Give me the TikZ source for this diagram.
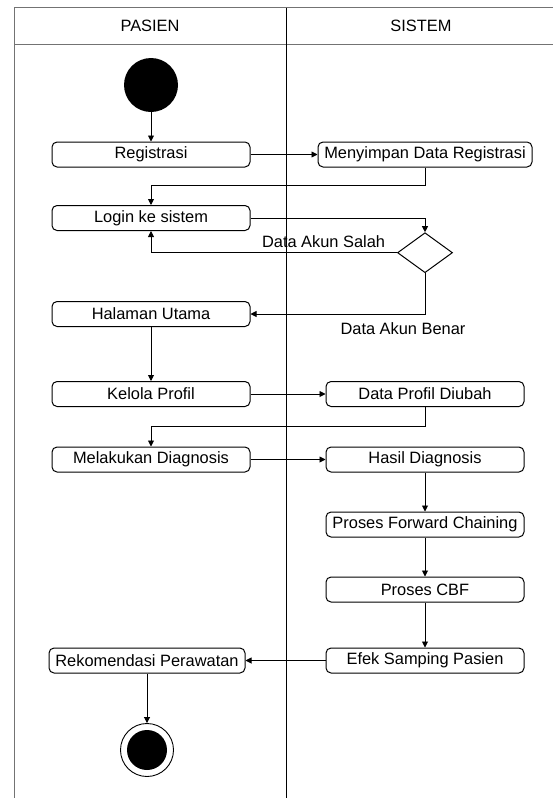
\documentclass[tikz,border=0pt]{standalone}
\usepackage{fontspec}
\setmainfont{Liberation Sans}
\usetikzlibrary{arrows.meta,shapes.geometric}
\begin{document}
\begin{tikzpicture}[x=1pt,y=-1pt,
  act/.style={draw,rounded corners=5pt,line width=1pt,minimum height=25pt,inner sep=0pt,font=\fontsize{16.4}{19}\selectfont},
  lbl/.style={inner sep=0pt,font=\fontsize{16.4}{19}\selectfont},
  flow/.style={draw,line width=0.9pt,-{Triangle[length=6pt,width=6pt]}},
  lanebox/.style={draw=black!55,line width=1.3pt},
  divider/.style={draw=black,line width=1pt},
  ]
\useasboundingbox (0,0) rectangle (553,798);
% swimlane frame
\coordinate (tl) at (14.7,7.5);
\coordinate (hl) at (14.7,44.5);
\coordinate (bl) at (14.7,798);
\coordinate (tr) at (553,7.5);
\coordinate (hr) at (553,44.5);
\coordinate (dt) at (286,7.5);
\coordinate (db) at (286,798);
\draw[lanebox] (bl) -- (tl) -- (tr);
\draw[lanebox] (hl) -- (hr);
\draw[divider] (dt) -- (db);
\node[lbl] (hp) at (150,26) {PASIEN};
\node[lbl] (hs) at (421,26) {SISTEM};

% nodes
\node[circle,fill=black,minimum size=54pt,inner sep=0pt] (start) at (151,85) {};
\node[act,minimum width=198pt] (reg) at (151,154.5) {Registrasi};
\node[act,minimum width=214pt] (simpan) at (425,154.5) {Menyimpan Data Registrasi};
\node[act,minimum width=198pt] (login) at (151,218) {Login ke sistem};
\node[diamond,draw,line width=1pt,minimum width=55pt,minimum height=40pt,aspect=1.375,inner sep=0pt] (dec) at (425,252.7) {};
\node[act,minimum width=198pt] (utama) at (151,314) {Halaman Utama};
\node[act,minimum width=198pt] (kelola) at (151,394) {Kelola Profil};
\node[act,minimum width=198pt] (profil) at (425,394) {Data Profil Diubah};
\node[act,minimum width=198pt] (diag) at (151,459.5) {Melakukan Diagnosis};
\node[act,minimum width=198pt] (hasil) at (425,459.5) {Hasil Diagnosis};
\node[act,minimum width=198pt] (fc) at (425,524.5) {Proses Forward Chaining};
\node[act,minimum width=198pt] (cbf) at (425,589.5) {Proses CBF};
\node[act,minimum width=198pt] (efek) at (425,660.5) {Efek Samping Pasien};
\node[act,minimum width=196pt] (rekom) at (147,660.5) {Rekomendasi Perawatan};
\node[circle,draw,line width=0.9pt,minimum size=53pt,inner sep=0pt] (end) at (147,750) {};
\fill (end.center) circle (20pt);

% labels
\node[lbl] (salah) at (323.6,241.7) {Data Akun Salah};
\node[lbl] (benar) at (403,329) {Data Akun Benar};

% connectors
\draw[flow] (start.south) -- (reg.north);
\draw[flow] (reg.east) -- (simpan.west);
\draw[flow] (simpan.south) -- ++(0,18) -| (login.north);
\draw[flow] (login.east) -| (dec.north);
\draw[flow] (dec.west) -| (login.south);
\draw[flow] (dec.south) |- (utama.east);
\draw[flow] (utama.south) -- (kelola.north);
\draw[flow] (kelola.east) -- (profil.west);
\draw[flow] (profil.south) -- ++(0,19) -| (diag.north);
\draw[flow] (diag.east) -- (hasil.west);
\draw[flow] (hasil.south) -- (fc.north);
\draw[flow] (fc.south) -- (cbf.north);
\draw[flow] (cbf.south) -- (efek.north);
\draw[flow] (efek.west) -- (rekom.east);
\draw[flow] (rekom.south) -- (end.north);
\end{tikzpicture}
\end{document}
